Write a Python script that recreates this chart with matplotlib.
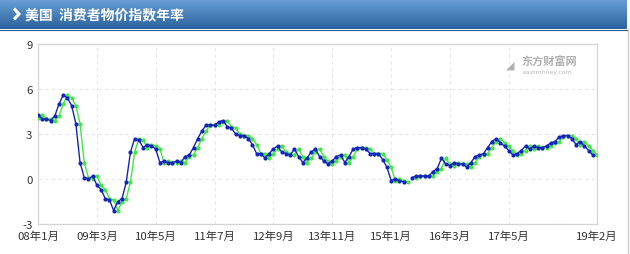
import matplotlib
matplotlib.use("Agg")
import matplotlib.pyplot as plt
import numpy as np
from matplotlib.lines import Line2D

plt.rcParams['font.family'] = ['Noto Sans CJK SC', 'DejaVu Sans']

# ---------------- data ----------------
title = "美国  消费者物价指数年率"
tick_labels = ["08年1月", "09年3月", "10年5月", "11年7月", "12年9月",
               "13年11月", "15年1月", "16年3月", "17年5月", "19年2月"]
tick_idx = [0, 14, 28, 42, 56, 70, 84, 98, 112, 133]

# current value (今值), monthly Jan 2008 .. Feb 2019
current = [
    4.3, 4.0, 4.0, 3.9, 4.2, 5.0, 5.6, 5.4, 4.9, 3.7, 1.1, 0.1,
    0.0, 0.2, -0.4, -0.7, -1.3, -1.4, -2.1, -1.5, -1.3, -0.2, 1.8, 2.7,
    2.6, 2.1, 2.3, 2.2, 2.0, 1.1, 1.2, 1.1, 1.1, 1.2, 1.1, 1.5,
    1.6, 2.1, 2.7, 3.2, 3.6, 3.6, 3.6, 3.8, 3.9, 3.5, 3.4, 3.0,
    2.9, 2.9, 2.7, 2.3, 1.7, 1.7, 1.4, 1.7, 2.0, 2.2, 1.8, 1.7,
    1.6, 2.0, 1.5, 1.1, 1.4, 1.8, 2.0, 1.5, 1.2, 1.0, 1.2, 1.5,
    1.6, 1.1, 1.5, 2.0, 2.1, 2.1, 2.0, 1.7, 1.7, 1.7, 1.3, 0.8,
    -0.1, 0.0, -0.1, -0.2, None, 0.1, 0.2, 0.2, 0.2, 0.2, 0.5, 0.7,
    1.4, 1.0, 0.9, 1.1, 1.0, 1.0, 0.8, 1.1, 1.5, 1.6, 1.7, 2.1,
    2.5, 2.7, 2.4, 2.2, 1.9, 1.6, 1.7, 1.9, 2.2, 2.0, 2.2, 2.1,
    2.1, 2.2, 2.4, 2.5, 2.8, 2.9, 2.9, 2.7, 2.3, 2.5, 2.2, 1.9,
    1.6, None,
]
# previous value (前值)
previous = [
    4.1, 4.3, 4.0, 4.0, 3.9, 4.2, 5.0, 5.6, 5.4, 4.9, 3.7, 1.1,
    0.1, 0.0, 0.2, -0.4, -0.7, -1.3, -1.4, -2.1, -1.5, -1.3, -0.2, 1.8,
    2.7, 2.6, 2.1, 2.3, 2.2, 2.0, 1.1, 1.2, 1.1, 1.1, 1.2, 1.1,
    1.5, 1.6, 2.1, 2.7, 3.2, 3.6, 3.6, 3.6, 3.8, 3.9, 3.5, 3.4,
    3.0, 2.9, 2.9, 2.7, 2.3, 1.7, 1.7, 1.4, 1.7, 2.0, 2.2, 1.8,
    1.7, 1.6, 2.0, 1.5, 1.1, 1.4, 1.8, 2.0, 1.5, 1.2, 1.0, 1.2,
    1.5, 1.6, 1.1, 1.5, 2.0, 2.1, 2.1, 2.0, 1.7, 1.7, 1.7, 1.3,
    0.8, -0.1, 0.0, -0.1, -0.2, None, 0.1, 0.2, 0.2, 0.2, 0.2, 0.5,
    0.7, 1.4, 1.0, 0.9, 1.1, 1.0, 1.0, 0.8, 1.1, 1.5, 1.6, 1.7,
    2.1, 2.5, 2.7, 2.4, 2.2, 1.9, 1.6, 1.7, 1.9, 2.2, 2.0, 2.2,
    2.1, 2.1, 2.2, 2.4, 2.5, 2.8, 2.9, 2.9, 2.7, 2.3, 2.5, 2.2,
    1.9, 1.6,
]
yticks = [-3, 0, 3, 6, 9]

cur = np.array([np.nan if v is None else v for v in current], dtype=float)
prev = np.array([np.nan if v is None else v for v in previous], dtype=float)
x = np.arange(len(cur))

# ---------------- figure ----------------
W, H = 630, 255
fig = plt.figure(figsize=(W / 100, H / 100), dpi=100)
fig.patch.set_facecolor('white')

# title bar gradient
bar = fig.add_axes([0, 1 - 30 / H, 627 / W, 30 / H])
grad = np.linspace(0, 1, 64).reshape(-1, 1)
top = np.array([0x6a, 0xa0, 0xd6]) / 255
bot = np.array([0x2c, 0x62, 0x9e]) / 255
img = top[None, None, :] * (1 - grad[:, :, None]) + bot[None, None, :] * grad[:, :, None]
bar.imshow(img, aspect='auto', extent=[0, 1, 0, 1], origin='upper')
bar.set_xlim(0, 1)
bar.set_ylim(0, 1)
bar.axis('off')
# chevron
bar.add_line(Line2D([14 / 627, 19 / 627, 14 / 627], [0.68, 0.5, 0.32],
                    color='white', lw=2.2, solid_capstyle='butt',
                    solid_joinstyle='miter'))
bar.text(25 / 627, 0.5, title, color='white', fontsize=10,
         fontweight='bold', va='center', ha='left')

# right border line
fig.add_artist(Line2D([627.5 / W, 627.5 / W], [0, 1 - 30 / H],
                      color='#cfcfcf', lw=1.0))
fig.add_artist(Line2D([0, 627 / W], [1 - 30.5 / H, 1 - 30.5 / H],
                      color='#2a5a8c', lw=0.8))

# main axes
ax = fig.add_axes([38 / W, 1 - 225 / H, (597 - 38) / W, 180 / H])
ax.set_xlim(0, len(cur) - 1)
ax.set_ylim(-3, 9)
ax.set_yticks(yticks)
ax.set_yticklabels([str(t) for t in yticks])
ax.set_xticks(tick_idx)
ax.set_xticklabels(tick_labels)
ax.tick_params(axis='both', length=0, labelsize=8.2, colors='#333333')
ax.tick_params(axis='x', pad=5)
ax.tick_params(axis='y', pad=4)
ax.grid(True, color='#e6e6e6', linestyle=(0, (3, 3)), lw=0.8)
ax.set_axisbelow(True)
for s in ax.spines.values():
    s.set_color('#d4d4d4')
    s.set_linewidth(0.9)

ax.plot(x, prev, color='#3fe83f', lw=1.0, marker='o', markersize=3.0,
        markeredgewidth=0, zorder=3)
ax.plot(x, cur, color='#1424bc', lw=1.0, marker='o', markersize=3.0,
        markeredgewidth=0, zorder=4)

# watermark
ax.text(0.865, 0.905, "东方财富网", transform=ax.transAxes, color='#b0b0b0',
        fontsize=8, ha='left', va='center', fontweight='bold')
ax.text(0.867, 0.845, "eastmoney.com", transform=ax.transAxes, color='#b8b8b8',
        fontsize=4.5, ha='left', va='center', family=['DejaVu Sans'])
ax.text(0.838, 0.885, "◢", transform=ax.transAxes, color='#b0b0b0',
        fontsize=8, ha='left', va='center', family=['DejaVu Sans'])

fig.savefig('out.png', dpi=100)
